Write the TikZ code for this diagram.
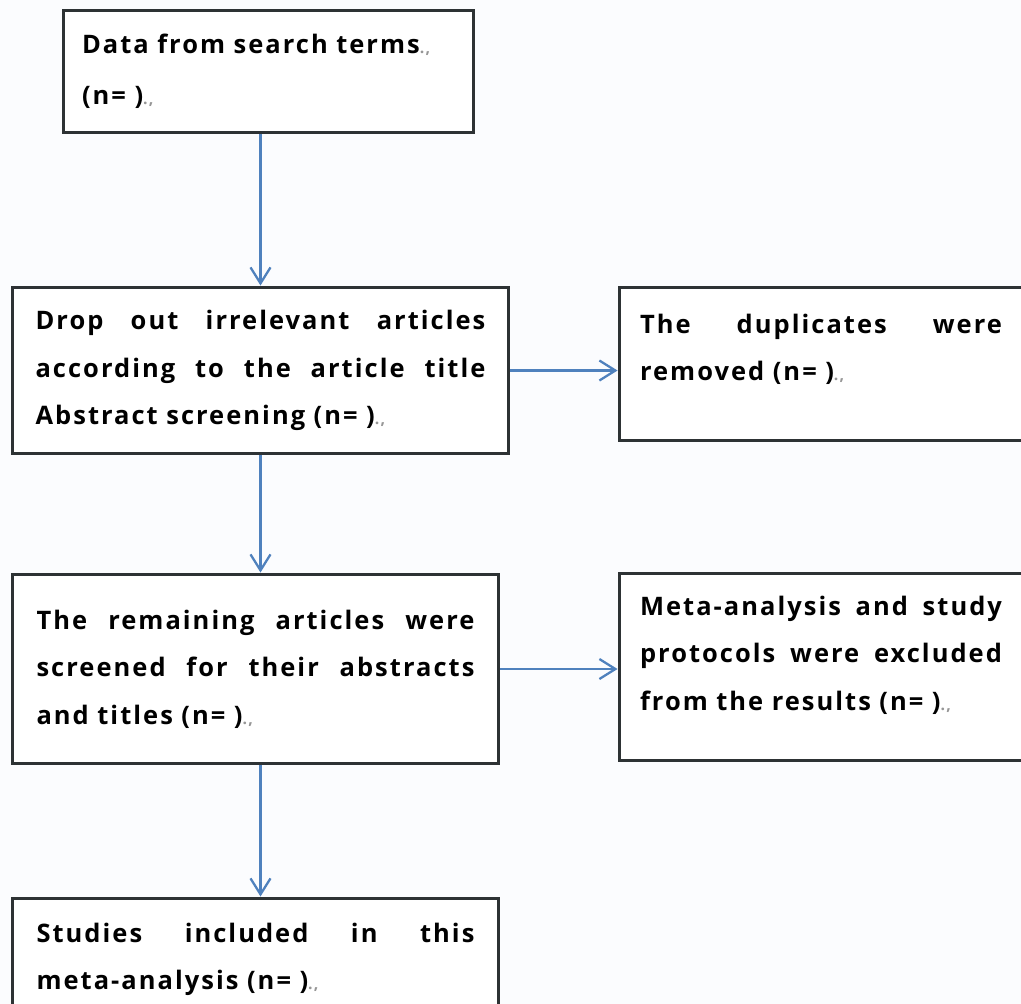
\documentclass[tikz,border=0pt]{standalone}
\usepackage{fontspec}
\usepackage{tikz}
\usetikzlibrary{arrows.meta}
\newfontfamily\flowfont[LetterSpace=8]{Open Sans}
\definecolor{flowblue}{RGB}{79,129,189}
\definecolor{boxline}{RGB}{45,50,52}
\definecolor{pagebg}{RGB}{251,252,254}
\definecolor{markgray}{RGB}{150,150,150}
% one justified line, spaces stretched to the full text width
\newcommand{\jline}[1]{\leavevmode\hbox to \linewidth{\spaceskip=0.3em plus 1fil\relax #1}}
% small paragraph mark after each text
\newcommand{\pmark}{{\color{markgray}\fontsize{9pt}{9pt}\selectfont.,}}

\begin{document}
\begin{tikzpicture}[x=0.02cm, y=-0.02cm,
    flowbox/.style={rectangle, draw=boxline, line width=1.7pt, fill=white,
                    inner sep=0pt, align=left,
                    font=\flowfont\bfseries\fontsize{14.5pt}{27pt}\selectfont},
    arrow/.style={draw=flowblue, line width=1.3pt,
                  -{Straight Barb[length=0.32cm, width=0.4cm]}}
]
    \useasboundingbox[fill=pagebg] (0,0) rectangle (1021,1004);

    \node[flowbox, minimum width=8.22cm, minimum height=2.46cm, text width=7.46cm]
        (search) at (268.5,71.5) {Data from search terms\pmark\\[2pt](n= )\pmark};
    \node[flowbox, minimum width=9.94cm, minimum height=3.34cm, text width=9cm]
        (screen) at (260.5,370.5) {\jline{Drop out irrelevant articles}\\
        \jline{according to the article title}\\Abstract screening (n= )\pmark};
    \node[flowbox, minimum width=8.08cm, minimum height=3.08cm, text width=7.24cm]
        (dupl) at (821,364) {\jline{The duplicates were}\\
        removed (n= )\pmark\rule[-0.66cm]{0pt}{0pt}};
    \node[flowbox, minimum width=9.74cm, minimum height=3.8cm, text width=8.76cm]
        (remain) at (255.5,669) {\jline{The remaining articles were}\\
        \jline{screened for their abstracts}\\and titles (n= )\pmark};
    \node[flowbox, minimum width=8.08cm, minimum height=3.76cm, text width=7.24cm]
        (excl) at (821,667) {\jline{Meta-analysis and study}\\
        \jline{protocols were excluded}\\
        from the results (n= )\pmark\rule[-0.56cm]{0pt}{0pt}};
    \node[flowbox, minimum width=9.74cm, minimum height=2.46cm, text width=8.76cm]
        (included) at (255.5,959.5) {\jline{Studies included in this}\\
        meta-analysis (n= )\pmark};

    \draw[arrow] (search.south -| screen.north) -- (screen.north);
    \draw[arrow] (screen.south) -- (screen.south |- remain.north);
    \draw[arrow] (screen.south |- remain.south) -- (screen.south |- included.north);
    \draw[arrow] (screen.east) -- (screen.east -| dupl.west);
    \draw[arrow] (remain.east) -- (remain.east -| excl.west);
\end{tikzpicture}
\end{document}
